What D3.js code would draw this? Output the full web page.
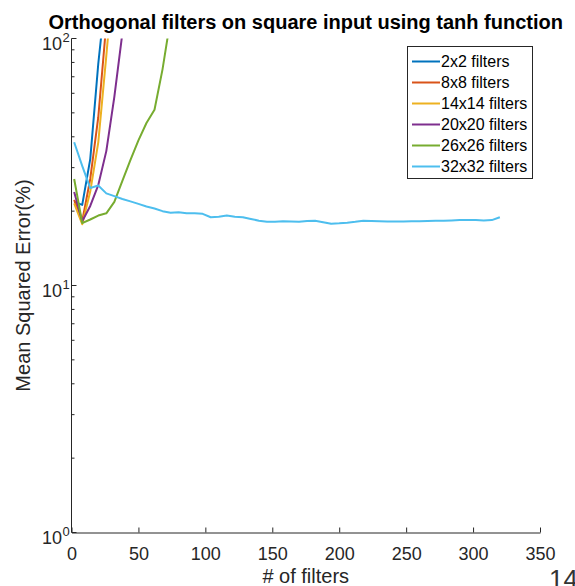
<!DOCTYPE html>
<html>
<head>
<meta charset="utf-8">
<script src="https://cdn.jsdelivr.net/npm/d3@7"></script>
<style>
html,body{margin:0;padding:0;background:#fff;overflow:hidden;}
svg{display:block;}
text{font-family:"Liberation Sans",Arial,Helvetica,sans-serif;}
</style>
</head>
<body>
<svg id="chart" width="575" height="586"></svg>
<script>
// ---- data ----
const filters = [2,8,14,20,26,32,38,44,50,56,62,68,74,80,86,92,98,104,110,116,122,128,134,140,146,152,158,164,170,176,182,188,194,200,206,212,218,224,230,236,242,248,254,260,266,272,278,284,290,296,302,308,314,320];
const seriesNames = ["2x2 filters","8x8 filters","14x14 filters","20x20 filters","26x26 filters","32x32 filters"];
const s2x2   = [21.8,21.2,32.5,79,160];
const s8x8   = [22.2,18.2,27,48,115];
const s14x14 = [21.5,17.7,24,38,85,200];
const s20x20 = [23.9,18.2,21,25.5,35,58,105];
const s26x26 = [27,17.9,18.5,19.2,19.6,21.8,26.5,32.2,38.7,45.5,51.5,75,120];
const s32x32 = [38.0,30.5,24.8,25.4,23.6,23.0,22.4,21.9,21.4,20.9,20.5,20.0,19.7,19.8,19.6,19.6,19.5,18.9,19.0,19.2,19.0,18.9,18.6,18.3,18.1,18.1,18.2,18.15,18.1,18.25,18.3,18.05,17.8,17.85,17.95,18.1,18.3,18.25,18.2,18.15,18.15,18.15,18.2,18.2,18.25,18.3,18.3,18.35,18.4,18.4,18.4,18.35,18.4,18.9];
const seriesValues = [s2x2,s8x8,s14x14,s20x20,s26x26,s32x32];
const colors = ["#0072BD","#D95319","#EDB120","#7E2F8E","#77AC30","#4DBEEE"];
const xTicks = [0,50,100,150,200,250,300,350];
const yMajor = [1,10,100];
const yExp = ["0","1","2"];
const titleText = "Orthogonal filters on square input using tanh function";
const xLabel = "# of filters";
const yLabel = "Mean Squared Error(%)";

// ---- layout ----
const L=71.5, R=540, T=38.5, B=532.5;
const svg = d3.select("#chart");
const x = d3.scaleLinear().domain([0,350]).range([L,R]);
const y = d3.scaleLog().domain([1,100]).range([B,T]);
const axisColor = "#262626";

svg.append("defs").append("clipPath").attr("id","clip")
  .append("rect").attr("x",L).attr("y",T).attr("width",R-L).attr("height",B-T);

// x axis
const gx = svg.append("g").attr("transform",`translate(0,${B})`)
  .call(d3.axisBottom(x).tickValues(xTicks).tickSizeInner(-5).tickSizeOuter(0).tickPadding(14.5).tickFormat(d3.format("d")));
gx.select(".domain").attr("stroke",axisColor);
gx.selectAll(".tick line").attr("stroke",axisColor);
gx.selectAll(".tick text").attr("fill",axisColor).attr("font-size","18px")
  .attr("font-family","'Liberation Sans',Arial,sans-serif");

// y axis
const gy = svg.append("g");
gy.append("line").attr("x1",L).attr("x2",L).attr("y1",T).attr("y2",B).attr("stroke",axisColor);
const minor = y.ticks().filter(v=>!yMajor.includes(v));
gy.selectAll("line.minor").data(minor).enter().append("line").attr("class","minor")
  .attr("x1",L).attr("x2",L+3).attr("y1",d=>y(d)).attr("y2",d=>y(d)).attr("stroke",axisColor);
gy.selectAll("line.major").data(yMajor).enter().append("line").attr("class","major")
  .attr("x1",L).attr("x2",L+5).attr("y1",d=>y(d)).attr("y2",d=>y(d)).attr("stroke",axisColor);
yMajor.forEach((v,i)=>{
  gy.append("text").attr("x",62).attr("y",y(v)+11.5).attr("text-anchor","end")
    .attr("font-size","18px").attr("fill",axisColor).text("10");
  gy.append("text").attr("x",62.5).attr("y",y(v)+3.5).attr("text-anchor","start")
    .attr("font-size","13px").attr("fill",axisColor).text(yExp[i]);
});

// lines
const line = d3.line().x(d=>x(d[0])).y(d=>y(d[1]));
const gl = svg.append("g").attr("clip-path","url(#clip)");
seriesValues.forEach((vals,i)=>{
  const pts = vals.map((v,j)=>[filters[j],v]);
  gl.append("path").datum(pts).attr("d",line).attr("fill","none")
    .attr("stroke",colors[i]).attr("stroke-width",2).attr("stroke-linejoin","round");
});

// title & labels
svg.append("text").attr("x",(L+R)/2).attr("y",29).attr("text-anchor","middle")
  .attr("font-size","20px").attr("font-weight","bold").attr("fill","#000").text(titleText);
svg.append("text").attr("x",(L+R)/2).attr("y",583).attr("text-anchor","middle")
  .attr("font-size","20px").attr("fill",axisColor).text(xLabel);
svg.append("text").attr("transform",`translate(30,${(T+B)/2}) rotate(-90)`).attr("text-anchor","middle")
  .attr("font-size","20px").attr("fill",axisColor).text(yLabel);

// legend
const lg = svg.append("g");
lg.append("rect").attr("x",407.5).attr("y",46.5).attr("width",125).attr("height",132)
  .attr("fill","#fff").attr("stroke",axisColor).attr("stroke-width",1);
seriesNames.forEach((n,i)=>{
  const cy = 61.5 + i*21;
  lg.append("line").attr("x1",412).attr("x2",440).attr("y1",cy).attr("y2",cy)
    .attr("stroke",colors[i]).attr("stroke-width",2);
  lg.append("text").attr("x",441).attr("y",cy+5.8).attr("font-size","16px").attr("fill","#000").text(n);
});

// page number (partly outside the page in the reference)
svg.append("text").attr("x",549).attr("y",588).attr("font-size","26px")
  .attr("font-family","'Liberation Serif','DejaVu Serif',serif").attr("fill","#333").text("14");
</script>
</body>
</html>
